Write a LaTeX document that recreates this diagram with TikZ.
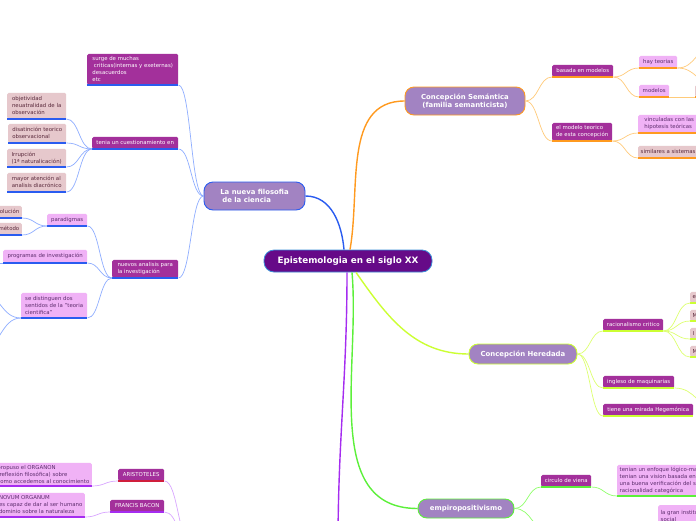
\documentclass[tikz,border=0pt]{standalone}
\usepackage{fontspec}
\setmainfont{DejaVu Sans}
\usepackage{tikz}
\usetikzlibrary{calc}
\definecolor{rootfill}{HTML}{660A88}
\definecolor{rootline}{HTML}{3A8FD8}
\definecolor{topicfill}{HTML}{A283C2}
\definecolor{subfill}{HTML}{A3309B}
\definecolor{leaffill}{HTML}{F0B2F6}
\definecolor{leaftext}{HTML}{5E2E6E}
\definecolor{notefill}{HTML}{E6C8CC}
\definecolor{notetext}{HTML}{5A2A3C}
\definecolor{bluebr}{HTML}{2A5CF0}
\definecolor{bluelt}{HTML}{8FAEFF}
\definecolor{orangebr}{HTML}{FF9A1F}
\definecolor{orangelt}{HTML}{FFCB7A}
\definecolor{limebr}{HTML}{CCFF33}
\definecolor{limelt}{HTML}{DDFF70}
\definecolor{greenbr}{HTML}{5CF03A}
\definecolor{greenlt}{HTML}{8FFF6A}
\definecolor{purplebr}{HTML}{A52CF0}
\definecolor{purplelt}{HTML}{D9A6FF}
\definecolor{redbr}{HTML}{D01E3C}

\begin{document}
\begin{tikzpicture}[
    x=1pt, y=-1pt,
    root/.style={rectangle, rounded corners=10pt, fill=rootfill, draw=rootline,
                 line width=0.8pt, text=white,
                 font=\fontsize{8.8}{10}\selectfont\bfseries,
                 minimum width=168pt, minimum height=22pt},
    topic/.style={rectangle, rounded corners=9pt, fill=topicfill, line width=0.9pt,
                  text=white, font=\fontsize{6.9}{8.2}\selectfont\bfseries,
                  align=center},
    sub/.style={rectangle, rounded corners=1.5pt, fill=subfill, text=white,
                anchor=south west, align=left, inner xsep=2.5pt, inner ysep=1pt,
                font=\fontsize{5.4}{7}\selectfont},
    leaf/.style={sub, fill=leaffill, text=leaftext},
    note/.style={sub, fill=notefill, text=notetext},
    trunk/.style={line width=1.4pt},
    twig/.style={line width=0.7pt},
    under/.style={line width=1.3pt},
    link/.style={to path={let \p1=(\tikztostart), \p2=(\tikztotarget) in
                 .. controls ({0.5*\x1+0.5*\x2},\y1) and ({0.5*\x1+0.5*\x2},\y2)
                 .. (\tikztotarget)}}
]
\useasboundingbox (0,0) rectangle (696,520);
\fill[white] (0,0) rectangle (696,520);
\clip (0,0) rectangle (696,520);

% Root
\node[root] (epis) at (348,261) {Epistemologia en el siglo XX};

% Main topics
\node[topic, draw=bluebr, minimum width=101pt, minimum height=28pt, align=left]
    (nueva) at (254.5,196) {La nueva filosofia\\\hspace*{2pt}de la ciencia};
\node[topic, draw=orangebr, minimum width=120pt, minimum height=28pt]
    (semantica) at (465,101) {Concepción Semántica\\(familia semanticista)};
\node[topic, draw=limebr, minimum width=108pt, minimum height=20pt]
    (heredada) at (523,354) {Concepción Heredada};
\node[topic, draw=greenbr, minimum width=96pt, minimum height=19pt]
    (empiro) at (466,508.5) {empiropositivismo};

% La nueva filosofia de la ciencia
\node[sub, minimum width=91pt, minimum height=31pt] (surge) at (87,85)
    {surge de muchas\\\hspace*{1.5pt}criticas(internas y exeternas)\\desacuerdos\\etc};
\node[sub, minimum width=86pt, minimum height=12pt] (tenia) at (92,149) {tenia un cuestionamiento en};
\node[sub, minimum width=66pt, minimum height=18pt] (nuevos) at (112,278) {nuevos analisis para\\la investigación};
\node[note, minimum width=59pt, minimum height=26pt] (objetividad) at (7,119) {objetividad\\neuatralidad de la\\observación};
\node[note, minimum width=58pt, minimum height=19pt] (disatincion) at (8,143) {disatinción teorico\\observacional};
\node[note, minimum width=59pt, minimum height=18pt] (irrupcion) at (7,167) {Irrupción\\(1ª naturalicación)};
\node[note, minimum width=59pt, minimum height=19pt] (mayor) at (7,192) {mayor atención al\\analisis diacrónico};
\node[leaf, minimum width=40pt, minimum height=12pt] (paradigmas) at (47,226) {paradigmas};
\node[note, anchor=south east, minimum height=12pt] (revolucion) at (22,218) {revolución};
\node[note, anchor=south east, minimum height=12pt] (metodo) at (22,235) {método};
\node[leaf, minimum width=84pt, minimum height=13pt] (programas) at (3,263) {programas de investigación};
\node[leaf, minimum width=66pt, minimum height=25pt] (distinguen) at (21,318)
    {se distinguen dos\\sentidos de la "teoria\\cientifica"};
\coordinate (progoff) at (-20,263);
\coordinate (distoff1) at (-20,292);
\coordinate (distoff2) at (-20,350);

% Concepcion Semantica
\node[sub, minimum width=61pt, minimum height=12pt] (basada) at (552,77) {basada en modelos};
\node[sub, minimum width=60pt, minimum height=18pt] (modeloteo) at (552,141) {el modelo teorico\\de esta concepción};
\node[leaf, minimum width=38pt, minimum height=12pt] (hayteorias) at (639,68) {hay teorias};
\node[leaf, minimum width=30pt, minimum height=12pt] (modelos) at (639,97) {modelos};
\node[note, minimum width=20pt, minimum height=12pt] (modelohijo) at (695,97) {};
\node[leaf, minimum width=62pt, minimum height=18pt] (vinculadas) at (638,133) {vinculadas con las\\hipotesis teóricas};
\node[note, minimum height=12pt] (similares) at (638,158) {similares a sistemas};
\coordinate (hayoff1) at (715,46);
\coordinate (hayoff2) at (715,84);

% Concepcion Heredada
\node[sub, minimum width=60pt, minimum height=12pt] (racionalismo) at (603,331) {racionalismo critico};
\node[sub, minimum width=71pt, minimum height=12pt] (ingleso) at (603,388) {ingleso de maquinarias};
\node[sub, minimum width=90pt, minimum height=12pt] (hegemonica) at (603,416) {tiene una mirada Hegemónica};
\foreach \i/\yy/\t in {1/303/e, 2/321/M, 3/339/I, 4/357/M}
    \node[note, text width=20pt, minimum height=11pt] (critica\i) at (690,\yy) {\t};
\coordinate (inglesooff) at (718,408);

% empiropositivismo
\node[sub, minimum width=50pt, minimum height=12pt] (circulo) at (541,487) {circulo de viena};
\node[leaf, minimum height=31pt] (enfoque) at (617,496)
    {tenian un enfoque lógico-matemático\\tenian una vision basada en\\una buena verificación del saber\\racionalidad categórica};
\node[leaf, anchor=north west, minimum height=22pt] (granins) at (658,505)
    {la gran institución\\social};
\coordinate (empirooff) at (550,532);

% rama inferior
\node[sub, minimum width=46pt, minimum height=12pt] (aristoteles) at (118,481) {ARISTOTELES};
\node[sub, minimum width=54pt, minimum height=12pt] (bacon) at (110,512) {FRANCIS BACON};
\node[leaf, anchor=south east, minimum height=23pt] (organon) at (92,486)
    {propuso el ORGANON\\(reflexión filosófica) sobre\\como accedemos al conocimiento};
\node[leaf, anchor=south east, minimum height=24pt] (novum) at (85,517)
    {NOVUM ORGANUM\\es capaz de dar al ser humano\\dominio sobre la naturaleza};
\coordinate (purpletopic) at (192,545);
\coordinate (purpleoff) at (338,545);

% Underlines
\foreach \nd in {surge,tenia,nuevos,objetividad,disatincion,irrupcion,mayor,
                paradigmas,revolucion,metodo,programas,distinguen}
    \draw[under, bluebr] (\nd.south west) -- (\nd.south east);
\foreach \nd in {basada,modeloteo,hayteorias,modelos,modelohijo,vinculadas,similares}
    \draw[under, orangebr] (\nd.south west) -- (\nd.south east);
\foreach \nd in {racionalismo,ingleso,hegemonica,critica1,critica2,critica3,critica4}
    \draw[under, limebr] (\nd.south west) -- (\nd.south east);
\foreach \nd in {circulo,enfoque}
    \draw[under, greenbr] (\nd.south west) -- (\nd.south east);
\foreach \nd in {bacon,organon,novum}
    \draw[under, purplebr] (\nd.south west) -- (\nd.south east);
\draw[under, redbr] (aristoteles.south west) -- (aristoteles.south east);

% Trunks
\draw[trunk, bluebr] ($(epis.north)+(-4,0)$) to[out=95, in=0] (nueva.east);
\draw[trunk, orangebr] ($(epis.north)+(2,0)$) to[out=80, in=180] (semantica.west);
\draw[trunk, limebr] ($(epis.south)+(8,0)$) to[out=-55, in=180] (heredada.west);
\draw[trunk, greenbr] ($(epis.south)+(4,0)$) to[out=-85, in=180] (empiro.west);
\draw[trunk, purplebr] ($(epis.south)+(-1,0)$) to[out=-90, in=90] (purpleoff);

% Branches
\foreach \nd in {surge,tenia,nuevos}
    \draw[twig, bluelt] (nueva.west) to[link] (\nd.south east);
\foreach \nd in {objetividad,disatincion,irrupcion,mayor}
    \draw[twig, bluelt] (tenia.south west) to[link] (\nd.south east);
\foreach \nd in {paradigmas,programas,distinguen}
    \draw[twig, bluelt] (nuevos.south west) to[link] (\nd.south east);
\foreach \nd in {revolucion,metodo}
    \draw[twig, bluelt] (paradigmas.south west) to[link] (\nd.south east);
\draw[twig, bluelt] (programas.south west) to[link] (progoff);
\draw[twig, bluelt] (distinguen.south west) to[link] (distoff1);
\draw[twig, bluelt] (distinguen.south west) to[link] (distoff2);

\foreach \nd in {basada,modeloteo}
    \draw[twig, orangelt] (semantica.east) to[link] (\nd.south west);
\foreach \nd in {hayteorias,modelos}
    \draw[twig, orangelt] (basada.south east) to[link] (\nd.south west);
\foreach \nd in {vinculadas,similares}
    \draw[twig, orangelt] (modeloteo.south east) to[link] (\nd.south west);
\draw[twig, orangelt] (hayteorias.south east) to[link] (hayoff1);
\draw[twig, orangelt] (hayteorias.south east) to[link] (hayoff2);
\draw[twig, orangelt] (modelos.south east) -- (modelohijo.south west);

\foreach \nd in {racionalismo,ingleso,hegemonica}
    \draw[twig, limelt] (heredada.east) to[link] (\nd.south west);
\foreach \i in {1,...,4}
    \draw[twig, limelt] (racionalismo.south east) to[link] (critica\i.south west);
\draw[twig, limelt] (ingleso.south east) to[link] (inglesooff);

\draw[twig, greenlt] (empiro.east) to[link] (circulo.south west);
\draw[twig, greenlt] (empiro.east) to[link] (empirooff);
\draw[twig, greenlt] (circulo.south east) to[link] (enfoque.south west);

\draw[twig, purplelt] (aristoteles.south east) to[link] (purpletopic);
\draw[twig, purplelt] (bacon.south east) to[link] (purpletopic);
\draw[twig, purplelt] (aristoteles.south west) to[link] (organon.south east);
\draw[twig, purplelt] (bacon.south west) to[link] (novum.south east);

\end{tikzpicture}
\end{document}
